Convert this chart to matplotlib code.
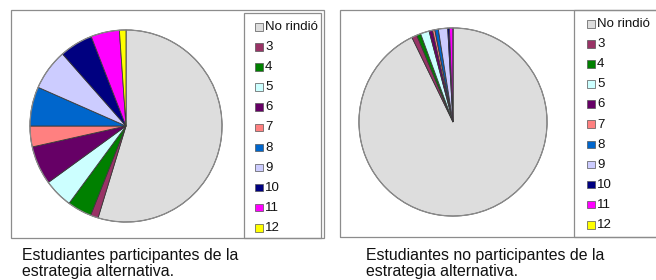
import matplotlib
matplotlib.use("Agg")
import matplotlib.pyplot as plt
from matplotlib.patches import Rectangle

plt.rcParams["font.family"] = ["Liberation Sans", "DejaVu Sans"]

# data (percent of students per grade)
labels = ["No rindió", "3", "4", "5", "6", "7", "8", "9", "10", "11", "12"]
colors = ["#DDDDDD", "#993366", "#008000", "#CCFFFF", "#660066", "#FF8080",
          "#0066CC", "#CCCCFF", "#000080", "#FF00FF", "#FFFF00"]
participantes = [54.7, 1.3, 4.1, 4.9, 6.5, 3.5, 6.6, 6.9, 5.6, 4.8, 1.1]
no_participantes = [92.9, 0.9, 0.7, 1.5, 0.6, 0.4, 0.6, 1.6, 0.3, 0.6, 0.0]
captions = ["Estudiantes participantes de la\nestrategia alternativa.",
            "Estudiantes no participantes de la\nestrategia alternativa."]

W, H = 656, 280
fig = plt.figure(figsize=(W / 100, H / 100), dpi=100)
fig.patch.set_facecolor("white")


def px_axes(x0, y0, x1, y1):
    # pixel box (top-left origin) -> figure axes
    return fig.add_axes([x0 / W, 1 - y1 / H, (x1 - x0) / W, (y1 - y0) / H])


def px_rect(x0, y0, x1, y1, color="#8c8c8c", lw=0.9):
    fig.add_artist(Rectangle((x0 / W, 1 - y1 / H), (x1 - x0) / W, (y1 - y0) / H,
                             transform=fig.transFigure, fill=False,
                             edgecolor=color, linewidth=lw))


def draw_panel(values, caption, pie_box, frame, legend_box, leg_x, leg_y0, caption_x):
    px_rect(*frame)
    px_rect(*legend_box)
    ax = px_axes(*pie_box)
    ax.pie(values, colors=colors, startangle=90, counterclock=False,
           wedgeprops=dict(edgecolor="#3a3a3a", linewidth=0.6))
    ax.set_xlim(-1.01, 1.01)
    ax.set_ylim(-1.01, 1.01)
    ax.set_aspect("equal")
    ax.axis("off")
    # outer circle in gray
    ax.add_patch(plt.Circle((0, 0), 1, fill=False, edgecolor="#8a8a8a", linewidth=0.9))
    for i, (lab, col) in enumerate(zip(labels, colors)):
        y = leg_y0 + i * 20.1
        fig.add_artist(Rectangle((leg_x / W, 1 - (y + 3.5) / H), 7.5 / W, 7.5 / H,
                                 transform=fig.transFigure, facecolor=col,
                                 edgecolor="#555555", linewidth=0.5))
        fig.text((leg_x + 10) / W, 1 - y / H, lab, fontsize=9.5,
                 va="center", ha="left", color="#111111")
    fig.text(caption_x / W, 1 - 263.5 / H, caption,
             fontsize=11.4, va="center", ha="left", linespacing=1.05, color="#111111")


draw_panel(participantes, captions[0], (29, 29, 223, 223), (11, 10, 324, 238),
           (244, 13, 321, 238), 255, 27, 22)
draw_panel(no_participantes, captions[1], (358, 27, 548, 217), (340, 10, 662, 237),
           (574, 10, 662, 237), 587, 24, 366)

fig.savefig("out.png", dpi=100, facecolor="white")
